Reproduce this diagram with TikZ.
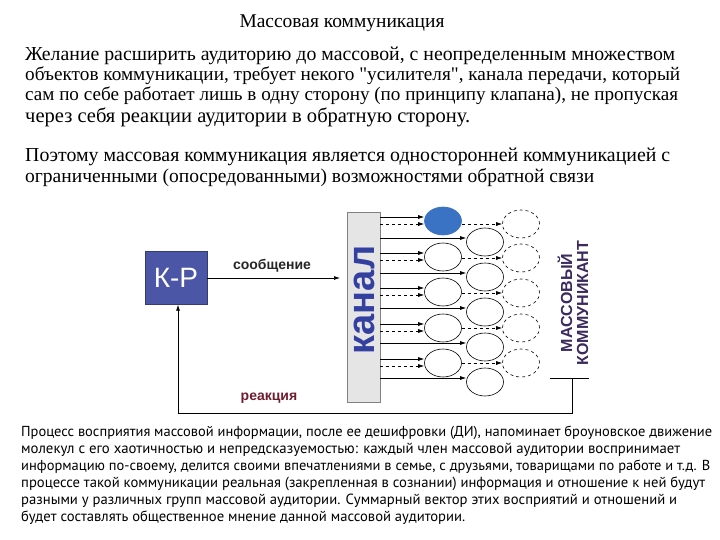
\documentclass[tikz,border=0pt]{standalone}
\usepackage{fontspec}
\setmainfont{Liberation Serif}
\newfontfamily\sansf{Liberation Sans}
\newfontfamily\ptf{PT Sans}
\usetikzlibrary{arrows.meta,shapes.geometric}
\definecolor{kpblue}{HTML}{4B56A6}
\definecolor{kanalblue}{HTML}{3340A0}
\definecolor{mkpurple}{HTML}{3A2A5E}
\definecolor{reakred}{HTML}{6E1E2E}
\definecolor{dotblue}{HTML}{3A72C4}
\begin{document}
\begin{tikzpicture}[x=1pt,y=-1pt,
  txt/.style={anchor=west,inner sep=0pt,font=\fontsize{13}{15}\selectfont},
  small/.style={anchor=west,inner sep=0pt,font=\ptf\fontsize{11}{13}\selectfont},
  arr/.style={-{Latex[length=6pt,width=4pt]},line width=0.7pt},
  darr/.style={arr,dashed},
  ell/.style={draw,ellipse,minimum width=37pt,minimum height=28pt,inner sep=0pt,line width=0.6pt},
  dell/.style={ell,dashed}]
\useasboundingbox (0,0) rectangle (720,540);
\fill[white] (0,0) rectangle (720,540);
\node[inner sep=0pt,font=\fontsize{15}{17}\selectfont] (title) at (342,23) {\resizebox{205pt}{!}{Массовая коммуникация}};
\node[txt] (p1) at (25,56) {\resizebox{650pt}{!}{Желание расширить аудиторию до массовой, с неопределенным множеством}};
\node[txt] (p2) at (25,76) {\resizebox{655pt}{!}{объектов коммуникации, требует некого \textquotedbl усилителя\textquotedbl, канала передачи, который}};
\node[txt] (p3) at (25,96) {\resizebox{653pt}{!}{сам по себе работает лишь в одну сторону (по принципу клапана), не пропуская}};
\node[txt] (p4) at (25,117) {\resizebox{445pt}{!}{через себя реакции аудитории в обратную сторону.}};
\node[txt] (q1) at (25,157) {\resizebox{645pt}{!}{Поэтому массовая коммуникация является односторонней коммуникацией с}};
\node[txt] (q2) at (25,178) {\resizebox{569pt}{!}{ограниченными (опосредованными) возможностями обратной связи}};
% diagram
\node[fill=kpblue,draw=kpblue!70!black,minimum width=62pt,minimum height=53pt,inner sep=0pt,text=white,font=\sansf\fontsize{28}{30}\selectfont] (kp) at (176,278) {К-Р};
\node[fill=black!10,draw=black!50,minimum width=33pt,minimum height=190pt,inner sep=0pt] (kanal) at (363.5,307) {};
\node[rotate=90,text=kanalblue,font=\sansf\bfseries\fontsize{38}{40}\selectfont,inner sep=0pt] (kt) at (364,300) {канал};
\node[inner sep=0pt,font=\sansf\bfseries\fontsize{14}{16}\selectfont,text=black!85] (soob) at (272,266) {сообщение};
\draw[arr] (kp.east |- 0,278) coordinate (s1) -- (340,278) coordinate (s2);
\foreach \i/\y in {1/221,2/257,3/292,4/328,5/363}{
  \ifnum\i=1
    \node[ell,fill=dotblue,draw=dotblue] (a\i) at (443,\y) {};
  \else
    \node[ell] (a\i) at (443,\y) {};
  \fi
  \draw[arr] (kanal.east |- 0,\y-4) -- (a\i.west |- 0,\y-4);
  \draw[darr] (kanal.east |- 0,\y+3) -- (a\i.west |- 0,\y+3);
}
\foreach \i/\y in {1/242,2/277,3/312,4/347,5/382}{
  \node[ell] (b\i) at (485,\y) {};
  \draw[arr] (kanal.east |- 0,\y-4) -- (b\i.west |- 0,\y-4);
}
\foreach \i/\y in {1/224,2/258,3/293,4/328,5/363}{
  \node[dell] (c\i) at (521,\y) {};
  \draw[darr] (a\i.east |- 0,\y) -- (c\i.west |- 0,\y);
}
\node[rotate=90,text=mkpurple,font=\sansf\bfseries\fontsize{16}{16}\selectfont,align=center,inner sep=0pt] (mk) at (573,303) {МАССОВЫЙ\\КОММУНИКАНТ};
\coordinate (m1) at (550,378);
\coordinate (m2) at (589,378);
\coordinate (m3) at (572,378);
\coordinate (m4) at (572,413);
\coordinate (m5) at (178,413);
\draw[line width=0.7pt] (m1) -- (m2);
\draw[arr] (m3) -- (m4) -- (m5) -- (kp.south -| m5);
\node[inner sep=0pt,text=reakred,font=\sansf\bfseries\fontsize{14}{16}\selectfont] (reak) at (269,398) {реакция};
% bottom paragraph
\node[small] (r1) at (21,433) {\resizebox{691pt}{!}{Процесс восприятия массовой информации, после ее дешифровки (ДИ), напоминает броуновское движение}};
\node[small] (r2) at (21,450) {\resizebox{659pt}{!}{молекул с его хаотичностью и непредсказуемостью: каждый член массовой аудитории воспринимает}};
\node[small] (r3) at (21,467) {\resizebox{689pt}{!}{информацию по-своему, делится своими впечатлениями в семье, с друзьями, товарищами по работе и т.д. В}};
\node[small] (r4) at (21,484) {\resizebox{684pt}{!}{процессе такой коммуникации реальная (закрепленная в сознании) информация и отношение к ней будут}};
\node[small] (r5) at (21,501) {\resizebox{656pt}{!}{разными у различных групп массовой аудитории. Суммарный вектор этих восприятий и отношений и}};
\node[small] (r6) at (21,518) {\resizebox{444pt}{!}{будет составлять общественное мнение данной массовой аудитории.}};
\end{tikzpicture}
\end{document}
